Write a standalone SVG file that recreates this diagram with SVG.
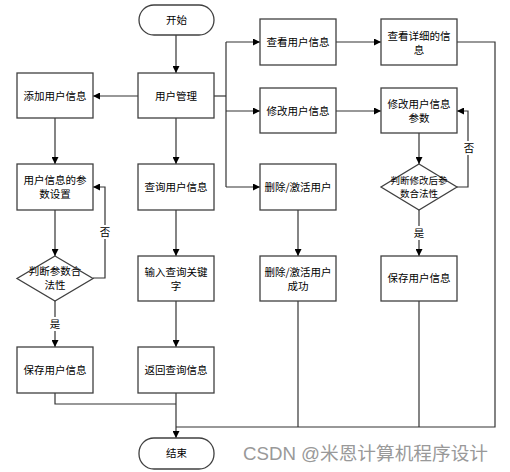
<svg xmlns="http://www.w3.org/2000/svg" width="510" height="472" viewBox="0 0 510 472">
<style>
.n{fill:#fff;stroke:#404040;stroke-width:1.3}
.t{font-family:"Noto Sans CJK SC","Liberation Sans",sans-serif;font-size:10.5px;fill:#000;text-anchor:middle}
.c{fill:none;stroke:#333;stroke-width:1.2}
.lb{fill:#fff}
.wm{font-family:"Liberation Sans","Noto Sans CJK SC",sans-serif;font-size:18px;fill:#999}
</style>
<defs>
<marker id="a" viewBox="0 0 10 10" refX="10" refY="5" markerWidth="7" markerHeight="7" markerUnits="userSpaceOnUse" orient="auto">
<path d="M0,0 L10,5 L0,10 z" fill="#000"/>
</marker>
</defs>
<rect width="510" height="472" fill="#fff"/>
<g id="connectors">
<path class="c" d="M176,35 V73" marker-end="url(#a)"/>
<path class="c" d="M138,96 H93" marker-end="url(#a)"/>
<path class="c" d="M176,118 V164" marker-end="url(#a)"/>
<path class="c" d="M214,96 H226"/>
<path class="c" d="M226,42 V187"/>
<path class="c" d="M226,42 H260" marker-end="url(#a)"/>
<path class="c" d="M226,111 H260" marker-end="url(#a)"/>
<path class="c" d="M226,187 H260" marker-end="url(#a)"/>
<path class="c" d="M336,42 H381" marker-end="url(#a)"/>
<path class="c" d="M336,111 H381" marker-end="url(#a)"/>
<path class="c" d="M419,133 V164" marker-end="url(#a)"/>
<path class="c" d="M457,187 H468 V111 H457" marker-end="url(#a)"/>
<path class="c" d="M419,210 V256" marker-end="url(#a)"/>
<path class="c" d="M298,210 V256" marker-end="url(#a)"/>
<path class="c" d="M55,118 V164" marker-end="url(#a)"/>
<path class="c" d="M55,210 V256" marker-end="url(#a)"/>
<path class="c" d="M93,278 H105 V187 H93" marker-end="url(#a)"/>
<path class="c" d="M55,301 V347" marker-end="url(#a)"/>
<path class="c" d="M176,210 V256" marker-end="url(#a)"/>
<path class="c" d="M176,301 V347" marker-end="url(#a)"/>
<path class="c" d="M176,393 V438" marker-end="url(#a)"/>
<path class="c" d="M55,393 V404 H176"/>
<path class="c" d="M457,42 H495 V427 H176"/>
<path class="c" d="M298,301 V427"/>
<path class="c" d="M419,301 V427"/>
<rect class="lb" x="463" y="141" width="12" height="14"/>
<text class="t" x="469" y="152">否</text>
<rect class="lb" x="413" y="226" width="12" height="14"/>
<text class="t" x="419" y="237">是</text>
<rect class="lb" x="99" y="225" width="12" height="14"/>
<text class="t" x="105" y="236">否</text>
<rect class="lb" x="49" y="317" width="12" height="14"/>
<text class="t" x="55" y="328">是</text>
</g>
<g id="start"><rect class="n" x="139" y="5" width="75" height="30" rx="15"/><text class="t" x="176.5" y="24">开始</text></g>
<g id="mgmt"><rect class="n" x="138" y="73" width="76" height="45"/><text class="t" x="176" y="100">用户管理</text></g>
<g id="add"><rect class="n" x="17" y="73" width="76" height="45"/><text class="t" x="55" y="100">添加用户信息</text></g>
<g id="param"><rect class="n" x="17" y="164" width="76" height="46"/><text class="t" x="55" y="184">用户信息的参</text><text class="t" x="55" y="198">数设置</text></g>
<g id="query"><rect class="n" x="138" y="164" width="76" height="46"/><text class="t" x="176" y="191">查询用户信息</text></g>
<g id="input"><rect class="n" x="138" y="256" width="76" height="45"/><text class="t" x="176" y="276">输入查询关键</text><text class="t" x="176" y="290">字</text></g>
<g id="ret"><rect class="n" x="138" y="347" width="76" height="46"/><text class="t" x="176" y="374">返回查询信息</text></g>
<g id="check1"><path class="n" d="M55,256 L93,278.5 L55,301 L17,278.5 Z"/><text class="t" x="55" y="275">判断参数合</text><text class="t" x="55" y="289">法性</text></g>
<g id="save1"><rect class="n" x="17" y="347" width="76" height="46"/><text class="t" x="55" y="374">保存用户信息</text></g>
<g id="view"><rect class="n" x="260" y="19" width="76" height="46"/><text class="t" x="298" y="46">查看用户信息</text></g>
<g id="detail"><rect class="n" x="381" y="19" width="76" height="46"/><text class="t" x="419" y="40">查看详细的信</text><text class="t" x="419" y="54">息</text></g>
<g id="edit"><rect class="n" x="260" y="88" width="76" height="45"/><text class="t" x="298" y="115">修改用户信息</text></g>
<g id="editp"><rect class="n" x="381" y="88" width="76" height="45"/><text class="t" x="419" y="108">修改用户信息</text><text class="t" x="419" y="122">参数</text></g>
<g id="del"><rect class="n" x="260" y="164" width="76" height="46"/><text class="t" x="298" y="191">删除/激活用户</text></g>
<g id="check2"><path class="n" d="M419,164 L457,187 L419,210 L381,187 Z"/><text class="t" x="419" y="184" style="font-size:9.5px">判断修改后参</text><text class="t" x="419" y="197" style="font-size:9.5px">数合法性</text></g>
<g id="delok"><rect class="n" x="260" y="256" width="76" height="45"/><text class="t" x="298" y="276">删除/激活用户</text><text class="t" x="298" y="290">成功</text></g>
<g id="save2"><rect class="n" x="381" y="256" width="76" height="45"/><text class="t" x="419" y="282">保存用户信息</text></g>
<g id="end"><rect class="n" x="139" y="438" width="75" height="31" rx="15"/><text class="t" x="176.5" y="457">结束</text></g>
<text class="wm" x="243" y="460" textLength="245" lengthAdjust="spacingAndGlyphs">CSDN @米恩计算机程序设计</text>
</svg>
